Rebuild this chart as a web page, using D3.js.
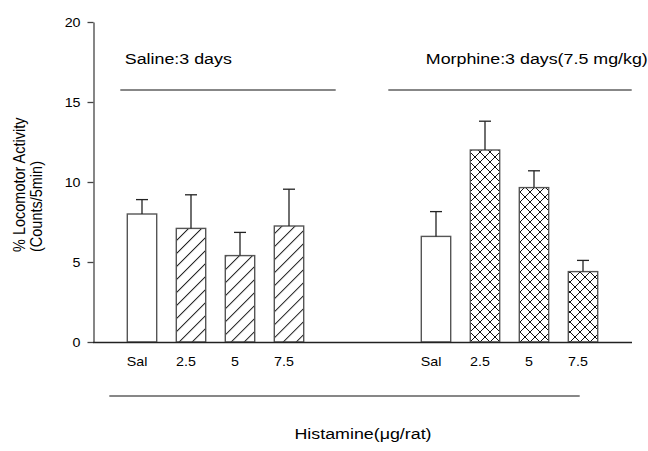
<!DOCTYPE html>
<html>
<head>
<meta charset="utf-8">
<script src="https://cdn.jsdelivr.net/npm/d3@7"></script>
<style>
html,body{margin:0;padding:0;background:#fff;}
svg{display:block;}
text{font-family:"Liberation Sans", Arial, sans-serif;fill:#000;}
</style>
</head>
<body>
<svg id="chart" width="648" height="451"></svg>
<script>
// ---- data ----
const groupLabels = ["Saline:3 days", "Morphine:3 days(7.5 mg/kg)"];
const doseLabels = ["Sal", "2.5", "5", "7.5"];
const salineMeans = [8.0, 7.1, 5.4, 7.25];
const salineErr = [0.9, 2.1, 1.45, 2.3];
const morphineMeans = [6.6, 12.0, 9.65, 4.4];
const morphineErr = [1.55, 1.8, 1.05, 0.7];
const yTicks = [0, 5, 10, 15, 20];
const yLabelLines = ["% Locomotor Activity", "(Counts/5min)"];
const xTitle = "Histamine(\u03bcg/rat)";

// ---- build table ----
const rows = [];
doseLabels.forEach((d, i) => rows.push({key: "S" + i, group: 0, dose: d, mean: salineMeans[i], err: salineErr[i], fill: i === 0 ? "white" : "hatch"}));
const gapKeys = ["gap0", "gap1"];
doseLabels.forEach((d, i) => rows.push({key: "M" + i, group: 1, dose: d, mean: morphineMeans[i], err: morphineErr[i], fill: i === 0 ? "white" : "cross"}));
const domain = rows.slice(0, 4).map(r => r.key).concat(gapKeys, rows.slice(4).map(r => r.key));

const svg = d3.select("#chart");
const X0 = 93, X1 = 632, Y0 = 342, Y1 = 22;
const SX = 1.19; // horizontal stretch of text in reference

const x = d3.scaleBand().domain(domain).range([X0, X1]).paddingInner(0.4).paddingOuter(0.7);
const y = d3.scaleLinear().domain([0, 20]).range([Y0, Y1]);

// patterns
const defs = svg.append("defs");
const hatch = defs.append("pattern").attr("id", "hatch").attr("patternUnits", "userSpaceOnUse")
  .attr("width", 9.2).attr("height", 20).attr("patternTransform", "rotate(45)");
hatch.append("rect").attr("width", 9.2).attr("height", 20).attr("fill", "white");
hatch.append("line").attr("x1", 0.5).attr("y1", 0).attr("x2", 0.5).attr("y2", 20)
  .attr("stroke", "#222").attr("stroke-width", 1);
const cross = defs.append("pattern").attr("id", "cross").attr("patternUnits", "userSpaceOnUse")
  .attr("width", 10).attr("height", 10).attr("x", 0).attr("y", 2);
cross.append("rect").attr("width", 10).attr("height", 10).attr("fill", "white");
cross.append("path").attr("d", "M0,0L10,10M10,0L0,10").attr("stroke", "#111").attr("stroke-width", 1).attr("fill", "none");

// y axis
const yAxis = d3.axisLeft(y).tickValues(yTicks).tickSize(6).tickSizeOuter(0).tickFormat(d3.format("d"));
const gy = svg.append("g").attr("transform", `translate(${X0 + 0.5},0)`).call(yAxis);
gy.select(".domain").attr("stroke", "#444").attr("stroke-width", 1.3);
gy.selectAll(".tick line").attr("stroke", "#444").attr("stroke-width", 1.3);
gy.selectAll(".tick text").remove();
gy.selectAll(".tick").append("text")
  .attr("text-anchor", "end")
  .attr("dy", "0.36em")
  .attr("font-size", 12)
  .attr("transform", `translate(-13,0) scale(${SX},1)`)
  .text(d => d);

// bars
const bars = svg.append("g");
bars.selectAll("rect").data(rows).join("rect")
  .attr("x", d => x(d.key))
  .attr("y", d => y(d.mean))
  .attr("width", x.bandwidth())
  .attr("height", d => y(0) - y(d.mean))
  .attr("fill", d => d.fill === "white" ? "white" : `url(#${d.fill})`)
  .attr("stroke", "#555").attr("stroke-width", 1.4);

// error bars
const eb = svg.append("g").attr("stroke", "#222").attr("stroke-width", 1.3);
eb.selectAll("line.v").data(rows).join("line").attr("class", "v")
  .attr("x1", d => x(d.key) + x.bandwidth() / 2).attr("x2", d => x(d.key) + x.bandwidth() / 2)
  .attr("y1", d => y(d.mean)).attr("y2", d => y(d.mean + d.err));
eb.selectAll("line.c").data(rows).join("line").attr("class", "c")
  .attr("x1", d => x(d.key) + x.bandwidth() / 2 - 6).attr("x2", d => x(d.key) + x.bandwidth() / 2 + 6)
  .attr("y1", d => y(d.mean + d.err)).attr("y2", d => y(d.mean + d.err));

// x axis line
svg.append("line").attr("x1", X0).attr("x2", X1).attr("y1", Y0 + 0.5).attr("y2", Y0 + 0.5)
  .attr("stroke", "#222").attr("stroke-width", 1.4);

// dose labels
svg.append("g").selectAll("text").data(rows).join("text")
  .attr("text-anchor", "middle")
  .attr("font-size", 12)
  .attr("transform", d => `translate(${x(d.key) + x.bandwidth() / 2 - 5},${Y0 + 24}) scale(${SX},1)`)
  .text(d => d.dose);

// group lines and labels
const lineY = y(15.75);
const sFirst = x("S0"), sLast = x("S3") + x.bandwidth();
const mFirst = x("M0"), mLast = x("M3") + x.bandwidth();
svg.append("line").attr("x1", sFirst - 7).attr("x2", sLast + 32).attr("y1", lineY).attr("y2", lineY)
  .attr("stroke", "#111").attr("stroke-width", 1.1);
svg.append("line").attr("x1", mFirst - 33).attr("x2", mLast + 34).attr("y1", lineY).attr("y2", lineY)
  .attr("stroke", "#111").attr("stroke-width", 1.1);
svg.append("text").attr("font-size", 15)
  .attr("transform", `translate(${sFirst - 2.5},64) scale(${SX},1)`).text(groupLabels[0]);
svg.append("text").attr("font-size", 15)
  .attr("transform", `translate(${mFirst + 4.5},64) scale(${SX},1)`).text(groupLabels[1]);

// bottom bracket line
svg.append("line").attr("x1", sFirst - 18).attr("x2", mLast - 18).attr("y1", 396).attr("y2", 396)
  .attr("stroke", "#111").attr("stroke-width", 1.1);

// x title
svg.append("text").attr("font-size", 15).attr("text-anchor", "middle")
  .attr("transform", `translate(363,439) scale(${SX},1)`).text(xTitle);

// y title
yLabelLines.forEach((t, i) => {
  svg.append("text").attr("font-size", 14.5).attr("text-anchor", "start")
    .attr("transform", `translate(${25 + i * 17},252) rotate(-90) scale(1,${SX})`).text(t);
});
</script>
</body>
</html>
